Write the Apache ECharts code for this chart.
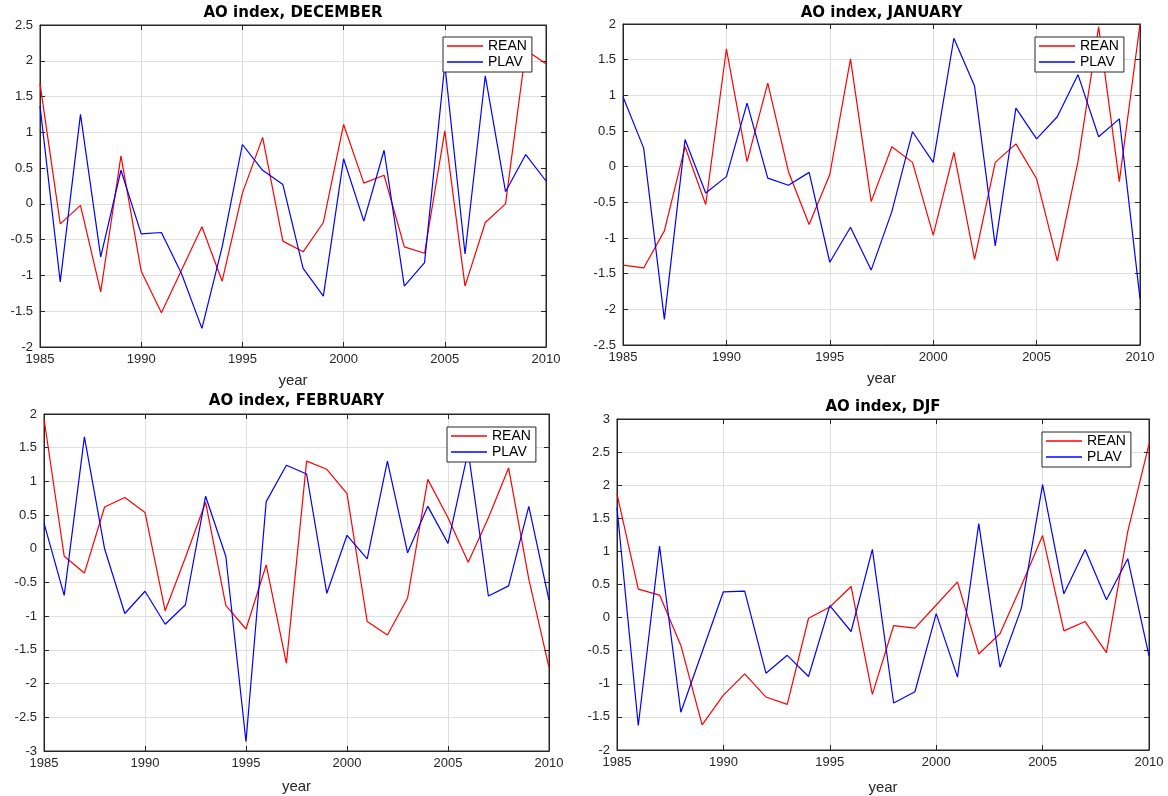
<!DOCTYPE html>
<html lang="en">
<head>
    <meta charset="UTF-8">
    <title>AO index</title>
    <script src="https://cdn.jsdelivr.net/npm/echarts@6/dist/echarts.min.js"></script>
    <style>
        body { margin: 0; background: #fff; }
    </style>
</head>
<body>
    <div id="main" style="width: 1168px;height:796px;"></div>
    <script>
        var chartDom = document.getElementById('main');
        var myChart = echarts.init(chartDom);

        const years = [1985, 1986, 1987, 1988, 1989, 1990, 1991, 1992, 1993, 1994, 1995, 1996, 1997,
                       1998, 1999, 2000, 2001, 2002, 2003, 2004, 2005, 2006, 2007, 2008, 2009, 2010];

        // AO index values
        const decRean = [1.68, -0.28, -0.02, -1.23, 0.67, -0.94, -1.52, -0.92, -0.32, -1.08, 0.15, 0.93, -0.52,
                         -0.67, -0.26, 1.11, 0.29, 0.40, -0.60, -0.69, 1.02, -1.15, -0.26, 0.0, 2.15, 1.96];
        const decPlav = [1.37, -1.09, 1.25, -0.74, 0.47, -0.42, -0.40, -0.98, -1.74, -0.60, 0.83, 0.47, 0.27,
                         -0.90, -1.29, 0.63, -0.24, 0.75, -1.15, -0.82, 1.95, -0.70, 1.79, 0.17, 0.69, 0.32];
        const janRean = [-1.38, -1.42, -0.90, 0.28, -0.53, 1.65, 0.07, 1.17, -0.07, -0.81, -0.11, 1.51, -0.49,
                         0.28, 0.06, -0.96, 0.20, -1.30, 0.06, 0.32, -0.17, -1.32, 0.07, 1.96, -0.21, 2.0];
        const janPlav = [0.98, 0.26, -2.14, 0.38, -0.37, -0.14, 0.89, -0.16, -0.26, -0.08, -1.34, -0.85, -1.45,
                         -0.63, 0.49, 0.06, 1.80, 1.13, -1.11, 0.82, 0.39, 0.70, 1.29, 0.42, 0.67, -1.85];
        const febRean = [1.93, -0.11, -0.36, 0.62, 0.76, 0.54, -0.92, -0.13, 0.69, -0.84, -1.19, -0.24, -1.70,
                         1.30, 1.18, 0.82, -1.08, -1.28, -0.73, 1.03, 0.46, -0.20, 0.46, 1.20, -0.45, -1.76];
        const febPlav = [0.38, -0.69, 1.66, 0.0, -0.96, -0.63, -1.12, -0.83, 0.78, -0.11, -2.86, 0.70, 1.24,
                         1.11, -0.66, 0.20, -0.15, 1.30, -0.06, 0.63, 0.08, 1.45, -0.70, -0.55, 0.63, -0.76];
        const djfRean = [1.87, 0.43, 0.34, -0.42, -1.62, -1.17, -0.85, -1.20, -1.31, -0.01, 0.16, 0.47, -1.16,
                         -0.12, -0.16, 0.19, 0.54, -0.55, -0.24, 0.48, 1.24, -0.20, -0.06, -0.53, 1.30, 2.62];
        const djfPlav = [1.66, -1.63, 1.08, -1.43, -0.52, 0.39, 0.40, -0.84, -0.57, -0.89, 0.18, -0.21, 1.03,
                         -1.29, -1.12, 0.06, -0.90, 1.42, -0.75, 0.14, 2.01, 0.36, 1.03, 0.27, 0.89, -0.58];

        const titles = ['AO index, DECEMBER', 'AO index, JANUARY', 'AO index, FEBRUARY', 'AO index, DJF'];
        const yMin = [-2, -2.5, -3, -2];
        const yMax = [2.5, 2, 2, 3];
        const reanData = [decRean, janRean, febRean, djfRean];
        const plavData = [decPlav, janPlav, febPlav, djfPlav];

        // panel boxes in pixels
        const boxes = [
            { left: 40, top: 25, width: 506, height: 322, titleTop: 6, nameGap: 26, legend: [443, 37] },
            { left: 623, top: 24, width: 517, height: 321, titleTop: 6, nameGap: 26, legend: [1035, 37] },
            { left: 44, top: 414, width: 505, height: 337, titleTop: 394, nameGap: 28, legend: [447, 427] },
            { left: 617, top: 419, width: 532, height: 333, titleTop: 400, nameGap: 30, legend: [1042, 432] }
        ];

        const axisColor = '#262626';
        const gridColor = '#dedede';
        const font = 'Liberation Sans, Arial, sans-serif';

        var grid = [], xAxis = [], yAxis = [], series = [], title = [], legend = [];

        boxes.forEach(function (b, i) {
            grid.push({ left: b.left, top: b.top, width: b.width, height: b.height,
                        show: true, borderColor: axisColor, borderWidth: 1, backgroundColor: '#fff' });
            title.push({
                text: titles[i], left: b.left + b.width / 2, top: b.titleTop, textAlign: 'center', padding: 0,
                textStyle: { fontSize: 15, fontWeight: 'bold', color: '#000', fontFamily: 'DejaVu Sans' }
            });
            legend.push({
                data: ['REAN', 'PLAV'], orient: 'vertical', left: b.legend[0], top: b.legend[1],
                icon: 'rect', itemWidth: 36, itemHeight: 1.5, itemGap: 0,
                padding: [1, 5, 2, 4], backgroundColor: '#fff', borderColor: axisColor, borderWidth: 1,
                textStyle: { fontSize: 14, color: '#000', fontFamily: font, lineHeight: 16 }
            });
            xAxis.push({
                type: 'value', gridIndex: i, min: 1985, max: 2010, interval: 5,
                name: 'year', nameLocation: 'middle', nameGap: b.nameGap,
                nameTextStyle: { fontSize: 15, color: axisColor, fontFamily: font },
                axisLine: { onZero: false, lineStyle: { color: axisColor } },
                axisTick: { inside: true, length: 5, lineStyle: { color: axisColor } },
                axisLabel: { fontSize: 13, color: axisColor, fontFamily: font, margin: 6,
                             formatter: function (v) { return String(v); } },
                splitLine: { show: true, lineStyle: { color: gridColor } }
            });
            xAxis.push({
                type: 'value', gridIndex: i, min: 1985, max: 2010, interval: 5, position: 'top',
                axisLine: { onZero: false, lineStyle: { color: axisColor } },
                axisTick: { inside: true, length: 5, lineStyle: { color: axisColor } },
                axisLabel: { show: false }, splitLine: { show: false }
            });
            yAxis.push({
                type: 'value', gridIndex: i, min: yMin[i], max: yMax[i], interval: 0.5,
                axisLine: { show: true, onZero: false, lineStyle: { color: axisColor } },
                axisTick: { show: true, inside: true, length: 5, lineStyle: { color: axisColor } },
                axisLabel: { fontSize: 13, color: axisColor, fontFamily: font, margin: 7 },
                splitLine: { show: true, lineStyle: { color: gridColor } }
            });
            yAxis.push({
                type: 'value', gridIndex: i, min: yMin[i], max: yMax[i], interval: 0.5, position: 'right',
                axisLine: { show: true, onZero: false, lineStyle: { color: axisColor } },
                axisTick: { show: true, inside: true, length: 5, lineStyle: { color: axisColor } },
                axisLabel: { show: false }, splitLine: { show: false }
            });
            series.push({
                name: 'REAN', type: 'line', xAxisIndex: i * 2, yAxisIndex: i * 2,
                symbol: 'none', color: '#ff0000', lineStyle: { width: 1.2 },
                data: years.map(function (y, k) { return [y, reanData[i][k]]; })
            });
            series.push({
                name: 'PLAV', type: 'line', xAxisIndex: i * 2, yAxisIndex: i * 2,
                symbol: 'none', color: '#0000ff', lineStyle: { width: 1.2 },
                data: years.map(function (y, k) { return [y, plavData[i][k]]; })
            });
        });

        var option = {
            backgroundColor: '#fff',
            animation: false,
            title: title,
            legend: legend,
            grid: grid,
            xAxis: xAxis,
            yAxis: yAxis,
            series: series
        };

        myChart.setOption(option);
    </script>
</body>
</html>
